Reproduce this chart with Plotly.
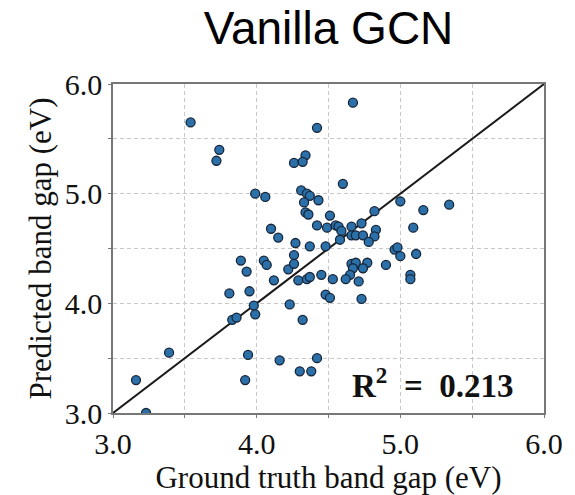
import plotly.graph_objects as go

# Ground-truth vs predicted band gaps (eV)
ground_truth = [
    3.54, 3.74, 3.72, 4.26, 3.99, 4.06, 4.10, 4.15, 4.27, 4.67,
    4.42, 4.34, 4.32, 4.60, 4.31, 4.35, 4.37, 4.33, 4.43, 4.34,
    4.36, 4.51, 5.00, 5.16, 5.34, 4.82, 4.73, 4.42, 4.49, 4.55,
    4.57, 4.66, 4.59, 4.83, 5.09, 4.66, 4.69, 4.74, 4.82, 4.58,
    4.78, 4.37, 4.48, 4.96, 4.98, 5.00, 5.11, 4.26, 3.89, 4.05,
    4.07, 3.93, 4.22, 4.12, 4.29, 3.81, 3.95, 3.98, 4.23, 3.99,
    3.83, 3.86, 3.39, 3.94, 4.16, 3.16, 3.92, 3.23, 4.26, 4.66,
    4.69, 4.77, 4.67, 4.74, 4.90, 4.45, 4.65, 4.62, 4.53, 4.35,
    4.37, 4.71, 5.07, 5.07, 4.48, 4.51, 4.73, 4.32, 4.42, 4.30,
    4.38,
]
predicted = [
    5.65, 5.40, 5.30, 5.28, 5.00, 4.97, 4.68, 4.60, 4.55, 5.83,
    5.60, 5.35, 5.29, 5.09, 5.03, 5.00, 4.98, 4.92, 4.94, 4.83,
    4.81, 4.80, 4.93, 4.85, 4.90, 4.84, 4.73, 4.71, 4.69, 4.71,
    4.70, 4.70, 4.66, 4.67, 4.69, 4.62, 4.62, 4.62, 4.61, 4.58,
    4.56, 4.52, 4.52, 4.49, 4.51, 4.43, 4.45, 4.44, 4.39, 4.39,
    4.35, 4.29, 4.31, 4.21, 4.21, 4.09, 4.11, 3.98, 3.99, 3.90,
    3.85, 3.87, 3.55, 3.53, 3.48, 3.30, 3.30, 3.00, 4.36, 4.36,
    4.37, 4.37, 4.32, 4.32, 4.35, 4.26, 4.26, 4.22, 4.22, 4.22,
    4.24, 4.20, 4.26, 4.22, 4.08, 4.05, 4.04, 3.85, 3.50, 3.38,
    3.38,
]

# Parity (y = x) reference line
parity = [3.0, 6.0]

tick_values = [3.0, 4.0, 5.0, 6.0]
tick_labels = ["3.0", "4.0", "5.0", "6.0"]
r2_value = 0.213

serif = "Liberation Serif, Times New Roman, serif"

fig = go.Figure()
fig.add_trace(go.Scatter(
    x=parity, y=parity, mode="lines",
    line=dict(color="#1a1a1a", width=2),
    hoverinfo="skip", showlegend=False,
))
fig.add_trace(go.Scatter(
    x=ground_truth, y=predicted, mode="markers",
    marker=dict(size=9, color="#2b70a8",
                line=dict(color="#18263a", width=1.3)),
    showlegend=False,
))

axis_common = dict(
    range=[3.0, 6.0],
    tickvals=tick_values, ticktext=tick_labels,
    tickfont=dict(family=serif, size=30, color="#111"),
    showline=True, linecolor="#777", linewidth=1.5, mirror=True,
    ticks="outside", ticklen=3, tickcolor="#777",
    showgrid=False, zeroline=False,
    minor=dict(dtick=0.5, tick0=3.0, showgrid=True, gridcolor="#c8c8c8",
               griddash="4px,3px", gridwidth=1, ticks="outside", ticklen=3,
               tickcolor="#777"),
)

fig.update_xaxes(**axis_common,
                 title=dict(text="Ground truth band gap (eV)",
                            font=dict(family=serif, size=31, color="#111"),
                            standoff=2))
fig.update_yaxes(**axis_common,
                 title=dict(text="Predicted band gap (eV)",
                            font=dict(family=serif, size=31, color="#111"),
                            standoff=4))

fig.add_annotation(
    x=5.80, y=3.27, xref="x", yref="y",
    text=f"<b>R<sup>2</sup>&nbsp; =&nbsp; {r2_value:.3f}</b>",
    showarrow=False, xanchor="right", yanchor="middle",
    font=dict(family=serif, size=33, color="#111"),
)

fig.update_layout(
    width=575, height=495,
    margin=dict(l=113, r=19, t=84, b=81),
    paper_bgcolor="white", plot_bgcolor="white",
    title=dict(text="Vanilla GCN", x=0.5, xref="paper",
               y=0.943, yref="container", yanchor="middle",
               font=dict(family="Liberation Sans, Arial, sans-serif",
                         size=46, color="#000")),
)

fig.write_html("out.html")
